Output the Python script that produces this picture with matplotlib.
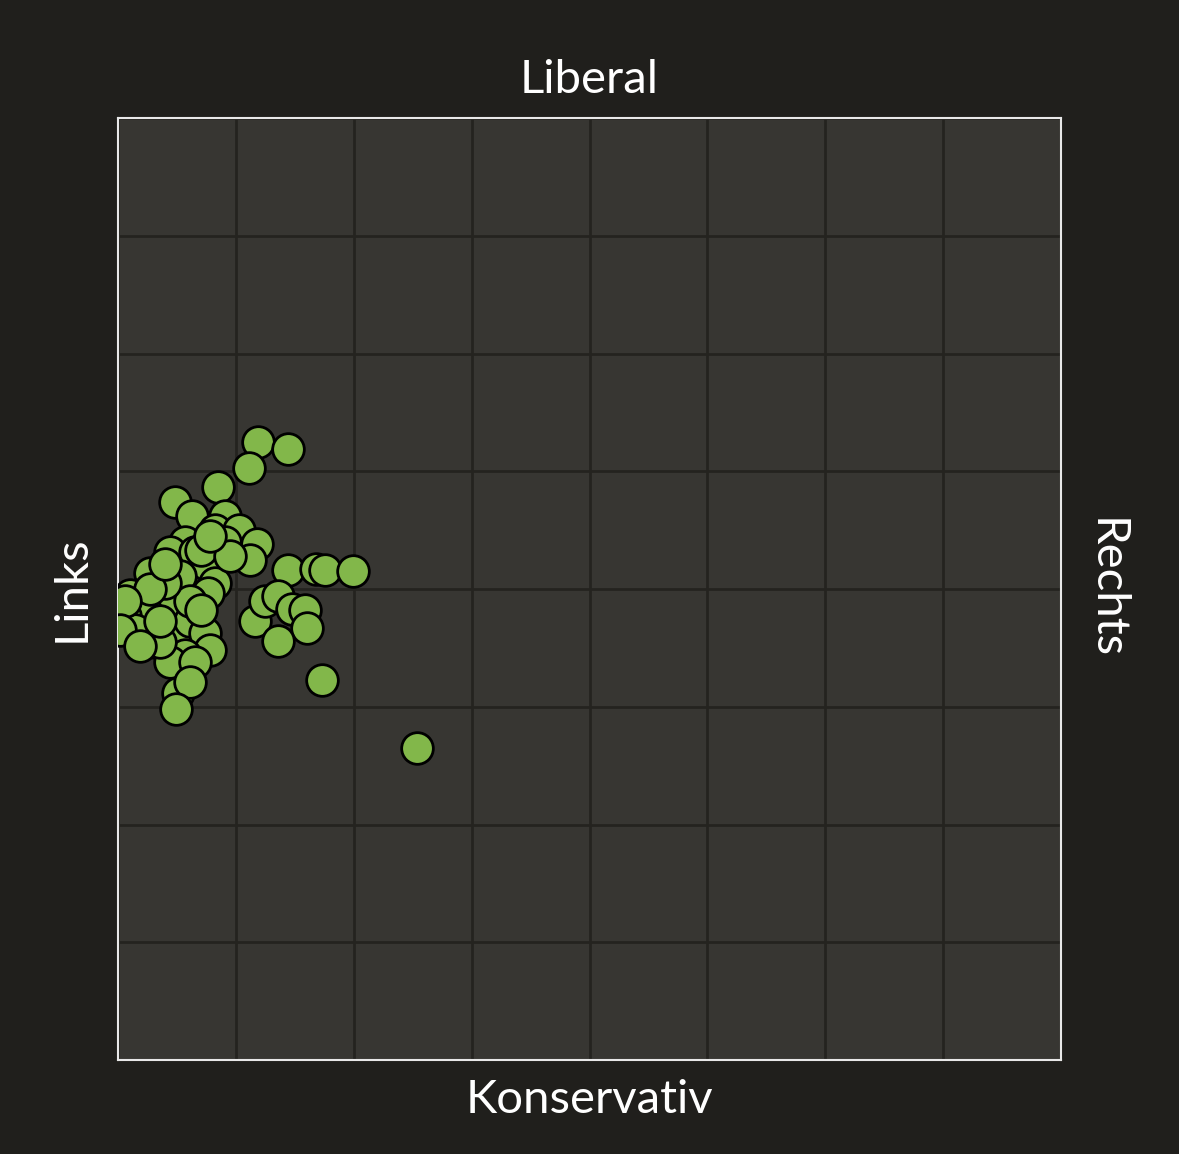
import matplotlib
matplotlib.use('Agg')
import matplotlib.pyplot as plt
import numpy as np

# economic axis (left -> right), social axis (conservative -> liberal)
econ = [1.19, 1.44, 1.11, 0.85, 0.48, 0.63, 0.91, 0.82, 1.03, 1.18, 0.57, 0.44, 0.65,
        0.75, 0.91, 1.12, 0.27, 0.53, 0.82, 0.76, 1.44, 1.68, 1.76, 1.99, 0.10, 0.23,
        0.36, -0.03, 0.17, 0.44, 0.08, 0.19, 0.31, 0.48, 0.61, 0.74, 0.78, 0.57, 0.44,
        0.65, 0.51, 0.61, 0.49, 0.36, 0.23, 0.06, 0.14, 0.36, 0.61, 0.70, 1.16, 1.25,
        1.36, 1.48, 1.59, 1.60, 1.36, 1.73, 2.54, 0.40, 0.27, 0.06, 0.02, 0.19, 0.40,
        0.70, 0.95, 0.78]
social = [5.25, 5.19, 5.03, 4.87, 4.74, 4.62, 4.62, 4.50, 4.50, 4.38, 4.40, 4.31, 4.31,
          4.21, 4.40, 4.25, 4.14, 4.11, 4.05, 3.97, 4.16, 4.17, 4.16, 4.15, 3.95, 3.90,
          3.86, 3.82, 3.85, 3.86, 3.67, 3.65, 3.55, 3.63, 3.73, 3.63, 3.48, 3.44, 3.38,
          3.38, 3.12, 3.21, 2.98, 3.55, 3.82, 3.77, 3.65, 3.73, 3.90, 3.82, 3.73, 3.90,
          3.94, 3.83, 3.82, 3.67, 3.56, 3.23, 2.65, 4.05, 4.00, 3.90, 3.65, 3.52, 4.21,
          4.33, 4.28, 4.45]

bg = '#201f1c'
fig = plt.figure(figsize=(11.79, 11.54), dpi=100, facecolor=bg)
ax = fig.add_axes([118/1179, 94/1154, 943/1179, 942/1154])
ax.set_facecolor('#373632')
ax.scatter(econ, social, s=520, c='#82b74a', edgecolors='black', linewidths=2, zorder=3)
ax.set_xlim(0, 8)
ax.set_ylim(0, 8)
ax.set_xticks(range(9))
ax.set_yticks(range(9))
ax.grid(True, color='#24231f', lw=2)
ax.tick_params(colors='#24231f', labelbottom=False, labelleft=False, length=0)
for s in ax.spines.values():
    s.set_color('#e8e8e8')
    s.set_linewidth(1.5)

ax.set_xlabel('Konservativ', color='white', fontsize=34, fontfamily='Lato', labelpad=14)
ax.set_title('Liberal', color='white', fontsize=34, fontfamily='Lato', pad=18)
ax.set_ylabel('Links', color='white', fontsize=34, fontfamily='Lato', labelpad=18)
ax.text(1.025, 0.5, 'Rechts', transform=ax.transAxes, rotation=270, va='center', ha='left',
        color='white', fontsize=34, fontfamily='Lato')

fig.savefig('out.png', facecolor=bg)
